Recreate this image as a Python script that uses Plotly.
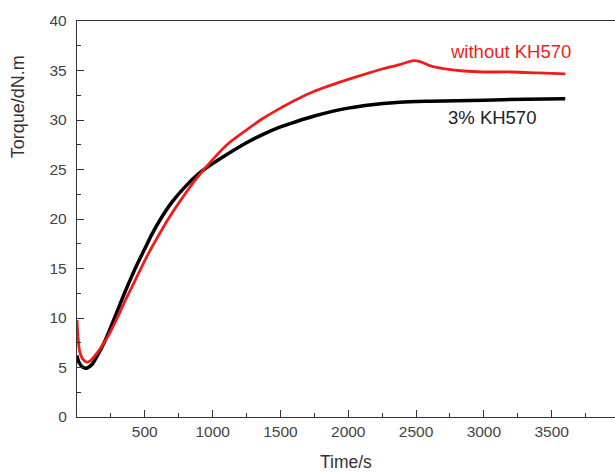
import plotly.graph_objects as go

# 3% KH570 (black)
t_black = [0, 15, 40, 75, 110, 150, 200, 250, 300, 350, 400, 450, 500, 550, 612, 700, 800,
           900, 1000, 1114, 1250, 1364, 1500, 1608, 1750, 1890, 2000, 2140, 2380, 2600,
           3000, 3300, 3600]
y_black = [6.2, 5.5, 5.05, 4.95, 5.3, 6.2, 7.5, 9.1, 10.8, 12.5, 14.1, 15.6, 17.0, 18.4,
           19.9, 21.7, 23.3, 24.6, 25.6, 26.6, 27.7, 28.5, 29.3, 29.8, 30.4, 30.9, 31.2,
           31.5, 31.8, 31.9, 32.0, 32.1, 32.15]

# without KH570 (red)
t_red = [0, 8, 20, 40, 72, 100, 150, 200, 250, 300, 350, 400, 450, 500, 550, 600, 664,
         750, 870, 1000, 1114, 1250, 1364, 1500, 1608, 1750, 1890, 2000, 2140, 2250, 2380,
         2480, 2530, 2600, 2700, 2850, 3000, 3200, 3400, 3600]
y_red = [9.8, 8.0, 6.6, 5.9, 5.55, 5.7, 6.5, 7.5, 8.7, 10.1, 11.6, 13.0, 14.4, 15.8, 17.1,
         18.3, 19.8, 21.6, 23.9, 26.0, 27.6, 29.0, 30.1, 31.2, 32.0, 32.9, 33.6, 34.1,
         34.7, 35.15, 35.6, 36.0, 35.9, 35.5, 35.2, 34.95, 34.85, 34.85, 34.75, 34.65]

x_ticks = [500, 1000, 1500, 2000, 2500, 3000, 3500]
y_ticks = [0, 5, 10, 15, 20, 25, 30, 35, 40]

FONT = "Liberation Sans, Arial, sans-serif"
AX = "#333333"
RED = "#f01c1c"

fig = go.Figure()
fig.add_trace(go.Scatter(x=t_black, y=y_black, mode="lines",
                         line=dict(color="black", width=3.5, shape="spline", smoothing=0.8),
                         showlegend=False))
fig.add_trace(go.Scatter(x=t_red, y=y_red, mode="lines",
                         line=dict(color=RED, width=2.8, shape="spline", smoothing=0.8),
                         showlegend=False))

fig.update_layout(
    width=615, height=474,
    margin=dict(l=77, r=0, t=21, b=57),
    paper_bgcolor="white", plot_bgcolor="white",
    font=dict(family=FONT, color="#444444"),
    xaxis=dict(range=[0, 3967], tickvals=x_ticks, ticks="inside", ticklen=7,
               tickcolor=AX, showline=True, linecolor=AX, linewidth=1.3, mirror=True,
               showgrid=False, zeroline=False, tickfont=dict(size=15.5),
               minor=dict(dtick=250, tick0=250, ticks="inside", ticklen=4, tickcolor=AX)),
    yaxis=dict(range=[0, 40], tickvals=y_ticks, ticks="inside", ticklen=7,
               tickcolor=AX, showline=True, linecolor=AX, linewidth=1.3, mirror=False,
               showgrid=False, zeroline=False, tickfont=dict(size=15.5),
               ticklabelstandoff=6,
               minor=dict(dtick=2.5, tick0=0, ticks="inside", ticklen=4, tickcolor=AX)),
    annotations=[
        dict(text="Time/s", xref="paper", yref="paper", x=0.5, y=0, yshift=-45,
             xanchor="center", yanchor="middle",
             showarrow=False, font=dict(size=17.5, color="#333333")),
        dict(text="Torque/dN.m", xref="paper", yref="paper", x=0, xshift=-59, y=0.782,
             xanchor="center", yanchor="middle",
             textangle=-90, showarrow=False, font=dict(size=18, color="#333333")),
        dict(text="without KH570", x=3193, y=36.9, showarrow=False,
             font=dict(size=18.5, color=RED)),
        dict(text="3% KH570", x=3060, y=30.3, showarrow=False,
             font=dict(size=18.5, color="#222222")),
    ],
)

fig.write_html("out.html")
